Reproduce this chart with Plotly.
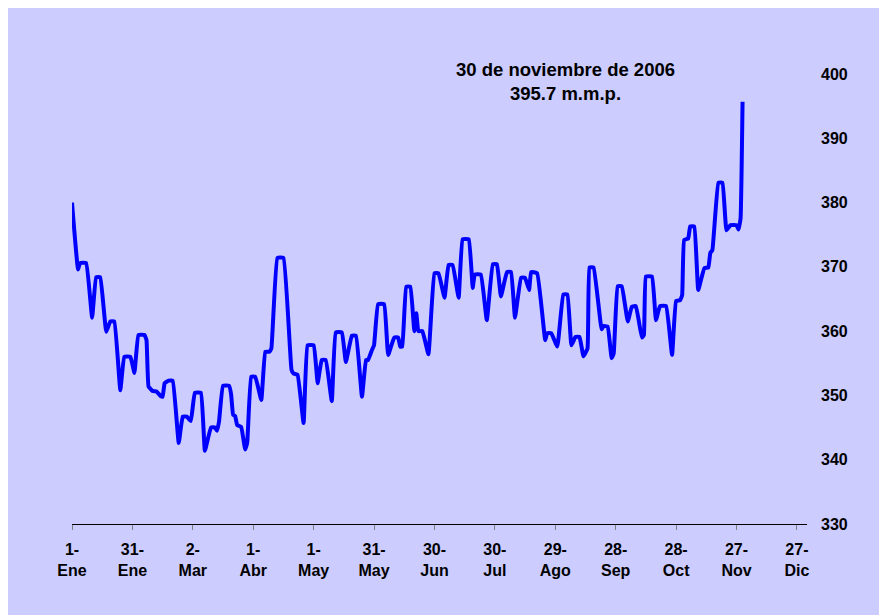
import plotly.graph_objects as go

# Day offsets from 1 January 2006 and values (m.m.p.)
days = [0, 3, 4, 7, 10, 12, 14, 17, 19, 21, 24, 26, 29, 31, 33, 36, 37, 38, 40, 42,
        44, 45, 46, 48, 50, 53, 55, 57, 59, 61, 64, 66, 69, 71, 72, 73, 75, 78, 79, 80,
        81, 82, 84, 86, 87, 89, 91, 94, 96, 98, 99, 102, 105, 109, 110, 112, 115, 117, 120, 122,
        124, 126, 129, 131, 134, 136, 139, 141, 144, 146, 147, 149, 150, 152, 155, 157, 160, 162, 163, 164,
        166, 168, 170, 171, 172, 174, 177, 180, 182, 185, 187, 189, 192, 194, 197, 199, 200, 203, 206, 209,
        211, 213, 216, 218, 220, 223, 225, 227, 228, 231, 235, 236, 238, 241, 244, 246, 248, 250, 252, 254,
        256, 257, 259, 263, 264, 266, 268, 269, 271, 273, 276, 278, 280, 283, 284, 285, 288, 290, 292, 295,
        298, 300, 302, 303, 304, 306, 307, 309, 311, 314, 316, 317, 318, 321, 323, 325, 327, 330, 331, 332,
        333]
values = [380.0, 369.6, 370.6, 370.6, 362.1, 368.4, 368.4, 359.9, 361.5, 361.5, 350.8, 356.0, 356.0, 353.5, 359.4, 359.4, 358.6, 351.4, 350.7, 350.6,
          349.9, 349.8, 351.9, 352.3, 352.3, 342.6, 346.7, 346.7, 346.0, 350.4, 350.4, 341.4, 345.0, 345.0, 344.5, 345.9, 351.5, 351.5, 350.2, 347.0,
          346.8, 345.4, 345.1, 341.6, 342.6, 352.9, 352.9, 349.3, 356.8, 356.8, 357.3, 371.4, 371.4, 354.0, 353.4, 353.2, 345.7, 357.8, 357.8, 351.9,
          355.5, 355.5, 349.1, 359.8, 359.8, 355.2, 359.3, 359.3, 349.8, 355.5, 355.5, 357.1, 357.8, 364.2, 364.2, 356.3, 359.0, 359.0, 357.6, 357.6,
          366.9, 366.9, 360.0, 362.8, 360.0, 360.0, 356.4, 369.0, 369.0, 365.2, 370.3, 370.3, 365.2, 374.3, 374.3, 366.7, 368.8, 368.8, 361.7, 370.4,
          370.4, 365.4, 369.2, 369.2, 362.1, 368.3, 368.3, 366.4, 369.2, 369.0, 358.6, 359.7, 359.7, 357.6, 365.7, 365.7, 357.8, 359.1, 359.1, 356.1,
          357.3, 369.9, 369.9, 360.3, 360.8, 360.7, 355.8, 356.5, 367.0, 367.0, 361.5, 363.8, 363.9, 359.0, 359.4, 368.5, 368.5, 361.7, 363.9, 363.9,
          356.3, 364.7, 364.8, 365.6, 374.2, 374.4, 376.3, 376.3, 366.4, 369.8, 369.9, 372.2, 372.6, 383.1, 383.1, 375.7, 376.5, 376.5, 375.8, 377.5,
          395.7]

tick_days = [0, 30, 60, 90, 120, 150, 180, 210, 240, 270, 300, 330, 360]
tick_labels = ["1-<br>Ene", "31-<br>Ene", "2-<br>Mar", "1-<br>Abr", "1-<br>May", "31-<br>May",
               "30-<br>Jun", "30-<br>Jul", "29-<br>Ago", "28-<br>Sep", "28-<br>Oct", "27-<br>Nov", "27-<br>Dic"]
y_ticks = [330, 340, 350, 360, 370, 380, 390, 400]

annotation_text = "30 de noviembre de 2006<br>395.7 m.m.p."

BG = "#CCCCFF"
FONT = "Liberation Sans, Arial, sans-serif"

fig = go.Figure()
fig.add_trace(go.Scatter(x=days, y=values, mode="lines",
                         line=dict(color="#0000FF", width=4, shape="spline", smoothing=0.3),
                         hoverinfo="skip"))

fig.update_layout(
    width=887, height=615,
    margin=dict(l=64, r=88, t=66, b=99),
    paper_bgcolor=BG,
    plot_bgcolor=BG,
    showlegend=False,
    font=dict(family=FONT, color="black"),
    annotations=[dict(x=245, y=398.9, xref="x", yref="y", text=annotation_text,
                      showarrow=False, xanchor="center", yanchor="middle",
                      font=dict(family=FONT, size=18.5, color="black", weight="bold"))],
)

fig.update_xaxes(range=[0, 365], tickmode="array", tickvals=tick_days, ticktext=tick_labels,
                 showgrid=False, zeroline=False, showline=True, linecolor="black", linewidth=1,
                 ticks="outside", ticklen=5, tickcolor="#808080", tickwidth=1,
                 tickfont=dict(family=FONT, size=16, color="black", weight="bold"),
                 ticklabelstandoff=6)
fig.update_yaxes(range=[329.99, 400.01], side="right", tickmode="array", tickvals=y_ticks,
                 showgrid=False, zeroline=False, showline=False, ticks="",
                 tickfont=dict(family=FONT, size=16, color="black", weight="bold"),
                 ticklabelstandoff=13)

fig.write_html("out.html")
